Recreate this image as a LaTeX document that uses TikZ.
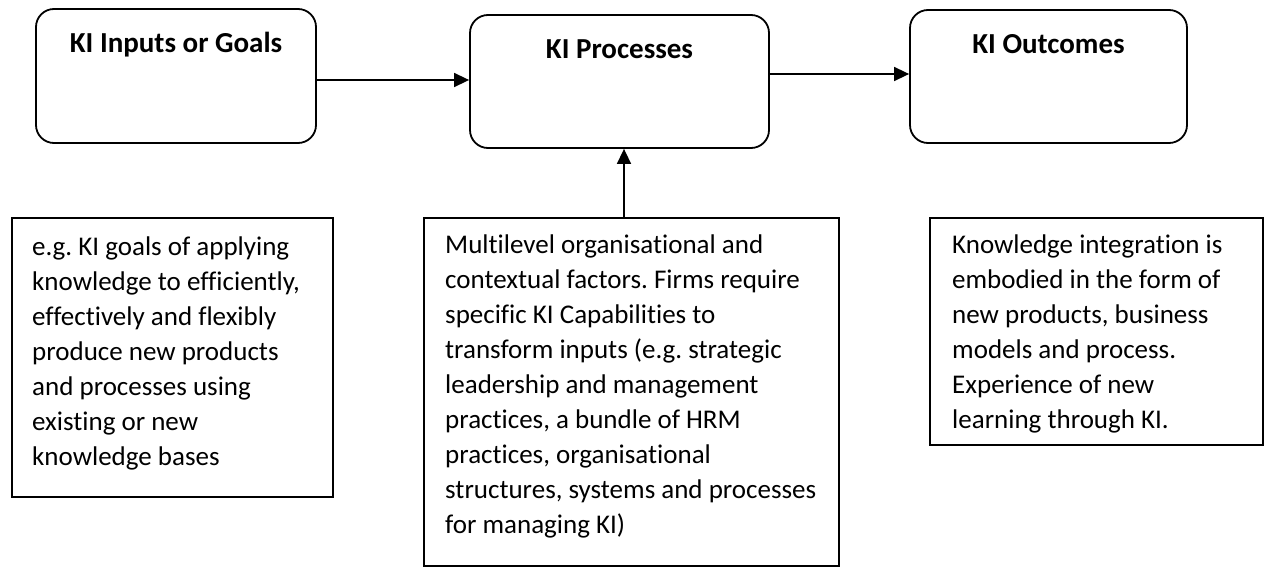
\documentclass[tikz,border=0pt]{standalone}
\usepackage{fontspec}
\setmainfont{Carlito}[Ligatures=NoCommon]
\usetikzlibrary{arrows.meta}
\frenchspacing
\begin{document}
\begin{tikzpicture}[x=1pt,y=-1pt,
  rbox/.style={draw, line width=1.8pt, rounded corners=18pt, inner sep=0pt},
  tbox/.style={draw, line width=1.4pt, inner sep=0pt},
  ttl/.style={font=\fontsize{29}{35}\selectfont\bfseries, inner sep=0pt, anchor=base},
  body/.style={font=\fontsize{27}{35}\selectfont, align=left, inner sep=0pt, anchor=north west},
  arr/.style={line width=1.6pt, -{Triangle[length=15pt,width=14pt]}}]
\useasboundingbox (0,0) rectangle (1270,567);

% top rounded boxes
\node[rbox, minimum width=280pt, minimum height=134pt] (in)   at (176,76)   {};
\node[rbox, minimum width=299pt, minimum height=133pt] (proc) at (619.5,81.5) {};
\node[rbox, minimum width=277pt, minimum height=133pt] (out)  at (1048.5,76.5) {};

\node[ttl] (tin)   at ([yshift=-44pt]in.north)   {KI Inputs or Goals};
\node[ttl] (tproc) at ([yshift=-44pt]proc.north) {KI Processes};
\node[ttl] (tout)  at ([yshift=-44pt]out.north)  {KI Outcomes};

% bottom rectangles
\node[tbox, minimum width=321pt, minimum height=279pt] (bl) at (172.5,357.5) {};
\node[tbox, minimum width=415pt, minimum height=348pt] (bm) at (631.5,392) {};
\node[tbox, minimum width=333pt, minimum height=227pt] (br) at (1096.5,331.5) {};

\node[body] (tbl) at (32,230.5) {\strut e.g. KI goals of applying\\
knowledge to efficiently,\\
effectively and flexibly\\
produce new products\\
and processes using\\
existing or new\\
knowledge bases};

\node[body] (tbm) at (445,228.5) {\strut Multilevel organisational and\\
contextual factors. Firms require\\
specific KI Capabilities to\\
transform inputs (e.g. strategic\\
leadership and management\\
practices, a bundle of HRM\\
practices, organisational\\
structures, systems and processes\\
for managing KI)};

\node[body] (tbr) at (952,228.5) {\strut Knowledge integration is\\
embodied in the form of\\
new products, business\\
models and process.\\
Experience of new\\
learning through KI.};

% connectors
\draw[arr] ([yshift=-4pt]in.east) -- ([yshift=1.5pt]proc.west);
\draw[arr] ([yshift=7.5pt]proc.east) -- ([yshift=2.5pt]out.west);
\draw[arr] ([xshift=-7.5pt]bm.north) -- ([xshift=4.5pt]proc.south);
\end{tikzpicture}
\end{document}
